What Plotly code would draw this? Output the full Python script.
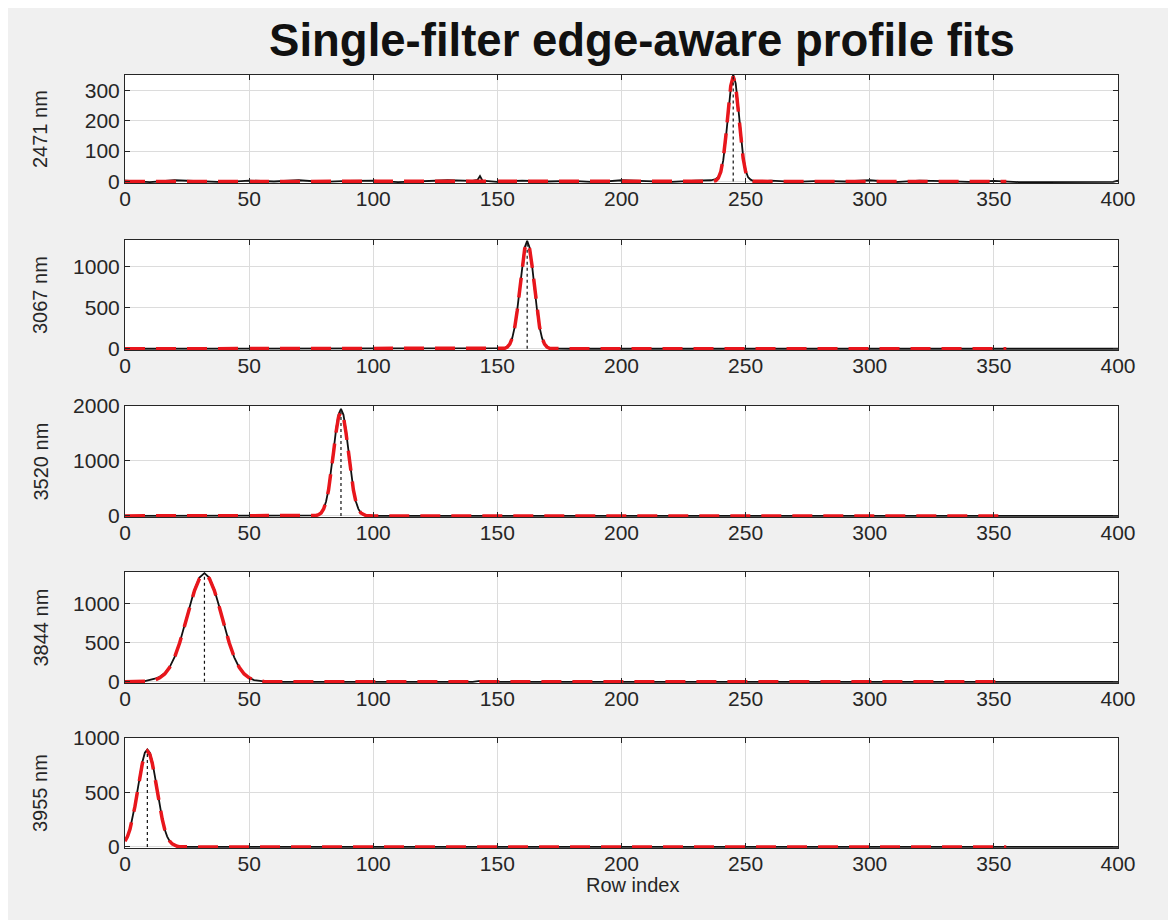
import plotly.graph_objects as go

# ---------------- data ----------------
panel_labels = ["2471 nm", "3067 nm", "3520 nm", "3844 nm", "3955 nm"]
x_tick_vals = [0, 50, 100, 150, 200, 250, 300, 350, 400]
y_tick_vals = [[0, 100, 200, 300], [0, 500, 1000], [0, 1000, 2000], [0, 500, 1000], [0, 500, 1000]]
y_ranges = [[-5, 350], [-15, 1330], [-20, 2000], [-15, 1410], [-10, 1000]]

# measured profiles (black)
d1_x = [0, 10, 20, 30, 40, 50, 60, 70, 80, 90, 100, 110, 120, 130, 140,
        142, 143, 144,
        150, 160, 170, 180, 190, 200, 210, 220, 230,
        236, 238, 239,
        240, 241, 242, 243, 244, 245, 246, 247, 248, 249, 250, 251, 252, 253,
        256,
        260, 270, 280, 290, 300, 310, 320, 330, 340, 350,
        356,
        360, 370, 380, 390,
        398, 400]
d1_y = [3, -2, 4, 1, -2, 3, 0, 4, -1, 2, 3, -2, 1, 4, 2,
        5, 18, 3,
        -1, 3, 0, 2, -2, 4, 1, -1, 3,
        4, 8, 15,
        30, 70, 140, 230, 305, 352, 322, 245, 152, 82, 36, 14, 6, 2,
        0,
        3, -1, 2, 0, 4, -2, 3, 1, -1, 2,
        0,
        -2, -2, -2, -2,
        -1, 3]

d2_x = [0, 50, 100, 150,
        152, 153, 154, 155, 156, 157, 158, 159, 160, 161, 162, 163, 164, 165, 166, 167, 168, 169, 170, 171, 172,
        180, 250, 300, 350, 400]
d2_y = [0, 0, 0, 2,
        2, 8, 22, 58, 133, 268, 476, 744, 1023, 1240, 1320, 1235, 1010, 730, 465, 262, 130, 56, 22, 8, 2,
        0, 0, 0, 0, 0]

d3_x = [0, 50, 75,
        76, 77, 78, 79, 80, 81, 82, 83, 84, 85, 86, 87, 88, 89, 90, 91, 92, 93, 94, 95, 96, 97, 98,
        100, 150, 200, 250, 300, 350, 400]
d3_y = [0, 0, 2,
        3, 8, 22, 56, 128, 263, 485, 800, 1185, 1560, 1845, 1950, 1840, 1550, 1175, 795, 480, 262, 128, 56, 22, 8, 3,
        0, 0, 0, 0, 0, 0, 0]

d4_x = [0, 4, 8,
        10, 12, 14, 16, 18, 20, 22, 24, 26, 28, 30, 32, 34, 36, 38, 40, 42, 44, 46, 48, 50, 52,
        56, 60,
        100, 140, 143, 146,
        200, 300, 350, 400]
d4_y = [0, 2, 10,
        25, 40, 65, 110, 190, 320, 500, 725, 965, 1185, 1340, 1395, 1335, 1180, 960, 720, 495, 315, 185, 100, 50, 22,
        5, 0,
        0, 0, 12, 0,
        0, 0, 0, 0]

d5_x = [0, 1, 2, 3, 4, 5, 6, 7, 8, 9, 10, 11, 12, 13, 14, 15, 16, 17, 18, 19, 20, 21, 22, 23, 24,
        30, 50, 100, 150, 200, 250, 300, 350, 354, 400]
d5_y = [60, 100, 160, 260, 380, 515, 655, 780, 865, 895, 865, 780, 655, 510, 375, 255, 160, 95, 52, 28, 13, 6, 2, 0, 0,
        0, 0, 0, 0, 0, 0, 0, 0, -3, 0]

# fitted profiles (red dashed)
f1_x = [0, 50, 100, 150, 200, 230,
        237, 238, 239, 240, 241, 242, 243, 244, 245, 246, 247, 248, 249, 250, 251, 252, 253,
        260, 300, 355]
f1_y = [0, 0, 0, 0, 0, 0,
        1, 3, 11, 32, 76, 147, 236, 314, 345, 314, 236, 147, 76, 32, 11, 3, 1,
        0, 0, 0]

f2_x = [0, 100, 150,
        153, 154, 155, 156, 157, 158, 159, 160, 161, 162, 163, 164, 165, 166, 167, 168, 169, 170, 171,
        180, 250, 355]
f2_y = [0, 0, 0,
        7, 22, 57, 131, 264, 468, 732, 1008, 1220, 1300, 1220, 1008, 732, 468, 264, 131, 57, 22, 7,
        0, 0, 0]

f3_x = [0, 50, 75,
        77, 78, 79, 80, 81, 82, 83, 84, 85, 86, 87, 88, 89, 90, 91, 92, 93, 94, 95, 96, 97,
        100, 150, 355]
f3_y = [0, 0, 0,
        7, 21, 54, 125, 257, 473, 781, 1153, 1520, 1797, 1900, 1797, 1520, 1153, 781, 473, 257, 125, 54, 21, 7,
        0, 0, 0]

f4_x = [0, 6,
        8, 10, 12, 14, 16, 18, 20, 22, 24, 26, 28, 30, 32, 34, 36, 38, 40, 42, 44, 46, 48, 50, 52, 54, 56,
        60, 100, 200, 355]
f4_y = [0, 0,
        4, 10, 23, 51, 101, 187, 317, 498, 719, 956, 1172, 1325, 1380, 1325, 1172, 956, 719, 498, 317, 187, 101, 51, 23, 10, 4,
        0, 0, 0, 0]

f5_x = [0, 1, 2, 3, 4, 5, 6, 7, 8, 9, 10, 11, 12, 13, 14, 15, 16, 17, 18, 19, 20, 21, 22, 23,
        30, 100, 200, 355]
f5_y = [53, 96, 161, 254, 371, 506, 644, 766, 850, 880, 850, 766, 644, 506, 371, 254, 161, 96, 53, 28, 13, 6, 2, 1,
        0, 0, 0, 0]

peak_centers = [245, 162, 87, 32, 9]
peak_heights = [345, 1300, 1900, 1380, 880]

data_x = [d1_x, d2_x, d3_x, d4_x, d5_x]
data_y = [d1_y, d2_y, d3_y, d4_y, d5_y]
fit_x = [f1_x, f2_x, f3_x, f4_x, f5_x]
fit_y = [f1_y, f2_y, f3_y, f4_y, f5_y]

# ---------------- layout ----------------
# The page body adds an 8 px offset, so paper coords are screen coords minus 8.
OFF = 8
W, H = 1176, 920
L, R, T, B = 125 - OFF, 1118 - OFF, 75 - OFF, 848 - OFF
panel_px = [(75 - OFF, 183 - OFF), (240 - OFF, 350 - OFF), (406 - OFF, 517 - OFF),
            (572 - OFF, 683 - OFF), (738 - OFF, 848 - OFF)]
FONT = "Liberation Sans, Arial, Helvetica, sans-serif"
AX = "#262626"
TICK_SIZE = 21
LABEL_SIZE = 20

fig = go.Figure()
layout = dict(
    width=W, height=H,
    paper_bgcolor="#f0f0f0", plot_bgcolor="white",
    margin=dict(l=L, r=W - R, t=T, b=H - B, pad=0),
    showlegend=False,
    font=dict(family=FONT, size=TICK_SIZE, color=AX),
)

annotations = []
for i in range(5):
    n = i + 1
    xa = "x" if n == 1 else f"x{n}"
    ya = "y" if n == 1 else f"y{n}"
    fig.add_trace(go.Scatter(x=data_x[i], y=data_y[i], mode="lines",
                             line=dict(color="#111111", width=1.8),
                             xaxis=xa, yaxis=ya, hoverinfo="skip"))
    fig.add_trace(go.Scatter(x=fit_x[i], y=fit_y[i], mode="lines",
                             line=dict(color="rgb(232,22,28)", width=3.5, dash="20px,11px"),
                             xaxis=xa, yaxis=ya, hoverinfo="skip"))
    fig.add_trace(go.Scatter(x=[peak_centers[i], peak_centers[i]], y=[0, peak_heights[i]], mode="lines",
                             line=dict(color="#111111", width=1.2, dash="dot"),
                             xaxis=xa, yaxis=ya, hoverinfo="skip"))
    top, bot = panel_px[i]
    dom = [(B - bot) / (B - T), (B - top) / (B - T)]
    common = dict(showline=True, linecolor=AX, linewidth=1, mirror="ticks",
                  ticks="inside", ticklen=5, tickcolor=AX,
                  showgrid=True, gridcolor="#dcdcdc", gridwidth=1, zeroline=False,
                  tickfont=dict(family=FONT, size=TICK_SIZE, color=AX))
    layout["xaxis" + ("" if n == 1 else str(n))] = dict(
        domain=[0, 1], range=[0, 400], tickvals=x_tick_vals, anchor=ya,
        ticklabelstandoff=-3, **common)
    layout["yaxis" + ("" if n == 1 else str(n))] = dict(
        domain=dom, range=y_ranges[i], tickvals=y_tick_vals[i], anchor=xa, **common)
    annotations.append(dict(
        text=panel_labels[i], xref="paper", yref="paper",
        x=(40 - OFF - L) / (R - L), y=(B - (top + bot) / 2) / (B - T),
        showarrow=False, textangle=-90, font=dict(family=FONT, size=LABEL_SIZE, color=AX),
        xanchor="center", yanchor="middle"))

# x-axis title of the bottom panel
annotations.append(dict(
    text="Row index", xref="paper", yref="paper",
    x=(632 - OFF - L) / (R - L), y=(B - (885 - OFF)) / (B - T),
    showarrow=False, font=dict(family=FONT, size=LABEL_SIZE, color=AX),
    xanchor="center", yanchor="middle"))

layout["annotations"] = annotations
layout["title"] = dict(text="<b>Single-filter edge-aware profile fits</b>",
                       x=(642 - OFF) / W, xanchor="center", y=1 - (40 - OFF) / H, yanchor="middle",
                       font=dict(family=FONT, size=45.5, color="#111111"))
fig.update_layout(**layout)
fig.write_html("out.html")
